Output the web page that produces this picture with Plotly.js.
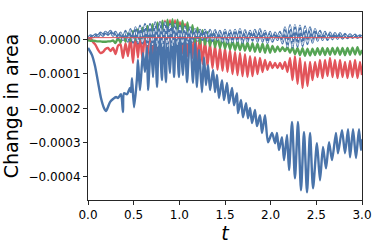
<!DOCTYPE html>
<html>
<head>
<meta charset="utf-8">
<script src="https://cdn.plot.ly/plotly-3.0.1.min.js"></script>
<style>html,body{margin:0;padding:0;background:#fff;}#chart{width:374px;height:249px;}</style>
</head>
<body>
<div id="chart"></div>
<script>
// values of the change in area are written in units of 1e-4
const UNIT = 1e-4;

// shared time grid for red, green and dotted-blue runs
const tGrid = [
  0, 0.027, 0.055, 0.082, 0.110, 0.137, 0.164, 0.192, 0.219, 0.246,
  0.274, 0.301, 0.328, 0.356, 0.383, 0.411, 0.438, 0.465, 0.493, 0.520,
  0.547, 0.569, 0.597, 0.624, 0.651, 0.679, 0.706, 0.734, 0.761, 0.788,
  0.816, 0.843, 0.871, 0.898, 0.925, 0.953, 0.980, 1.007, 1.035, 1.062,
  1.089, 1.117, 1.144, 1.172, 1.199, 1.226, 1.254, 1.281, 1.308, 1.336,
  1.363, 1.391, 1.418, 1.445, 1.473, 1.500, 1.527, 1.555, 1.582, 1.610,
  1.637, 1.664, 1.692, 1.719, 1.746, 1.774, 1.801, 1.828, 1.856, 1.883,
  1.911, 1.938, 1.965, 1.993, 2.020, 2.048, 2.075, 2.102, 2.130, 2.157,
  2.184, 2.212, 2.239, 2.266, 2.294, 2.321, 2.349, 2.376, 2.403, 2.431,
  2.458, 2.486, 2.513, 2.540, 2.568, 2.595, 2.622, 2.650, 2.677, 2.704,
  2.732, 2.759, 2.787, 2.814, 2.841, 2.869, 2.896, 2.924, 2.951, 2.978,
  3.0
];

const redVals = [
  0, 0.05, -0.07, -0.15, -0.30, -0.39, -0.36, -0.27, -0.24, -0.33,
  -0.24, -0.42, -0.18, -0.13, -0.53, -0.10, -0.48, 0.08, -0.68, 0.20,
  -0.53, 0.20, -0.59, 0.28, -0.53, 0.37, -0.45, 0.46, -0.39, 0.52,
  -0.36, 0.55, -0.30, 0.57, -0.33, 0.57, -0.30, 0.52, -0.39, 0.46,
  -0.48, 0.34, -0.53, 0.22, -0.65, 0.11, -0.71, -0.01, -0.77, -0.10,
  -0.83, -0.15, -0.88, -0.21, -0.91, -0.24, -0.94, -0.30, -1.00, -0.36,
  -1.03, -0.39, -1.06, -0.42, -1.09, -0.48, -1.06, -0.51, -1.00, -0.53,
  -0.94, -0.59, -0.88, -0.65, -0.83, -0.68, -0.83, -0.68, -0.85, -0.65,
  -0.94, -0.53, -1.18, -0.48, -1.29, -0.53, -1.41, -0.65, -1.35, -0.65,
  -1.18, -0.65, -1.09, -0.59, -1.12, -0.59, -1.06, -0.53, -1.09, -0.59,
  -1.12, -0.59, -1.09, -0.65, -1.12, -0.62, -1.09, -0.59, -1.12, -0.65,
  -1.03
];

const greenVals = [
  -0.02, -0.03, -0.03, -0.04, -0.05, -0.05, -0.06, -0.06, -0.05, -0.05,
  -0.02, -0.10, 0.05, -0.08, 0.12, -0.05, 0.18, -0.04, 0.25, 0.00,
  0.30, 0.02, 0.35, 0.04, 0.40, 0.05, 0.45, 0.05, 0.50, 0.06,
  0.55, 0.06, 0.58, 0.05, 0.60, 0.05, 0.58, 0.03, 0.55, 0.00,
  0.50, -0.03, 0.42, -0.08, 0.35, -0.12, 0.28, -0.15, 0.22, -0.18,
  0.15, -0.22, 0.10, -0.24, 0.05, -0.26, 0.00, -0.28, -0.03, -0.30,
  -0.05, -0.31, -0.07, -0.32, -0.09, -0.33, -0.10, -0.35, -0.12, -0.36,
  -0.12, -0.38, -0.14, -0.38, -0.18, -0.36, -0.20, -0.34, -0.22, -0.33,
  -0.22, -0.38, -0.22, -0.42, -0.24, -0.45, -0.25, -0.47, -0.26, -0.46,
  -0.26, -0.45, -0.25, -0.44, -0.24, -0.45, -0.25, -0.44, -0.24, -0.43,
  -0.23, -0.44, -0.24, -0.45, -0.24, -0.44, -0.23, -0.43, -0.22, -0.44,
  -0.30
];

const dottedVals = [
  0.05, 0.12, 0.08, 0.15, 0.10, 0.20, 0.12, 0.22, 0.15, 0.25,
  0.12, 0.22, 0.05, 0.20, 0.00, 0.25, -0.05, 0.30, -0.08, 0.35,
  -0.10, 0.40, -0.10, 0.45, -0.15, 0.45, -0.15, 0.50, -0.20, 0.50,
  -0.20, 0.50, -0.20, 0.45, -0.18, 0.45, -0.15, 0.40, -0.12, 0.38,
  -0.10, 0.35, -0.05, 0.30, -0.02, 0.28, 0.00, 0.28, -0.02, 0.28,
  -0.03, 0.27, 0.00, 0.25, -0.05, 0.28, -0.08, 0.26, -0.06, 0.28,
  -0.05, 0.30, -0.08, 0.27, -0.05, 0.25, -0.02, 0.28, -0.05, 0.30,
  -0.05, 0.25, -0.08, 0.22, -0.05, 0.20, 0.00, 0.22, -0.10, 0.35,
  -0.20, 0.42, -0.22, 0.42, -0.20, 0.40, -0.18, 0.38, -0.12, 0.35,
  -0.08, 0.30, -0.02, 0.25, 0.00, 0.22, 0.00, 0.20, 0.02, 0.18,
  0.03, 0.18, 0.04, 0.16, 0.05, 0.15, 0.06, 0.14, 0.06, 0.12,
  0.08
];

// large blue run
const tBlue = [
  0, 0.044, 0.077, 0.110, 0.142, 0.175, 0.197, 0.219, 0.241, 0.274,
  0.307, 0.328, 0.361, 0.383, 0.394, 0.427, 0.460, 0.471, 0.482, 0.504,
  0.537, 0.547, 0.569, 0.602, 0.624, 0.646, 0.657, 0.690, 0.712, 0.734,
  0.756, 0.777, 0.810, 0.821, 0.854, 0.865, 0.898, 0.920, 0.942, 0.964,
  0.996, 1.007, 1.040, 1.062, 1.084, 1.117, 1.150, 1.172, 1.193, 1.215,
  1.248, 1.270, 1.292, 1.314, 1.336, 1.369, 1.391, 1.412, 1.434, 1.467,
  1.489, 1.522, 1.544, 1.577, 1.599, 1.631, 1.642, 1.675, 1.697, 1.730,
  1.752, 1.774, 1.796, 1.828, 1.850, 1.883, 1.905, 1.938, 1.971, 2.015,
  2.048, 2.069, 2.091, 2.124, 2.146, 2.179, 2.201, 2.234, 2.266, 2.299,
  2.332, 2.365, 2.398, 2.431, 2.464, 2.507, 2.540, 2.573, 2.606, 2.639,
  2.672, 2.715, 2.737, 2.781, 2.814, 2.847, 2.869, 2.902, 2.934, 2.967,
  2.989, 3.0
];
const blueVals = [
  -0.24, -0.45, -0.77, -1.24, -1.70, -1.99, -2.08, -1.96, -1.82, -1.73,
  -1.67, -1.70, -1.59, -2.11, -1.56, -1.59, -1.41, -1.53, -1.12, -1.97,
  -1.09, -0.59, -1.47, -0.39, -0.94, -0.21, -1.47, -0.10, -1.09, 0.08,
  -1.38, 0.28, -1.18, 0.20, -1.24, 0.37, -0.97, 0.34, -1.09, 0.28,
  -1.09, 0.22, -1.03, 0.14, -1.24, 0.14, -1.26, -0.10, -1.38, -0.30,
  -1.53, -0.51, -1.32, -0.74, -1.47, -0.88, -1.53, -1.03, -1.70, -1.18,
  -1.76, -1.26, -1.85, -1.41, -1.91, -1.56, -2.14, -1.76, -2.26, -1.85,
  -2.29, -1.99, -2.43, -2.05, -2.52, -2.20, -2.72, -2.20, -2.99, -2.72,
  -3.02, -2.72, -3.22, -2.84, -3.51, -2.78, -3.80, -2.40, -4.04, -2.40,
  -4.39, -2.69, -4.45, -2.72, -4.33, -3.02, -4.10, -3.13, -3.75, -2.99,
  -3.51, -2.72, -3.31, -2.64, -3.31, -2.61, -3.43, -2.61, -3.45, -2.61,
  -3.22, -2.90
];

// thin red reference line
const refT = [0, 3.0];
const refVals = [0.06, 0.06];

const xTickLabels = ['0.0', '0.5', '1.0', '1.5', '2.0', '2.5', '3.0'];

const conv = a => a.map(v => v * UNIT);

const BLUE = '#4a74aa', RED = '#e2545a', GREEN = '#55a454';

const traces = [
  {x: tGrid, y: conv(redVals), mode: 'lines', line: {color: RED, width: 2.4, shape: 'spline', smoothing: 0.5}},
  {x: tGrid, y: conv(greenVals), mode: 'lines', line: {color: GREEN, width: 2.4, shape: 'spline', smoothing: 0.5}},
  {x: tBlue, y: conv(blueVals), mode: 'lines', line: {color: BLUE, width: 2.4, shape: 'spline', smoothing: 0.7}},
  {x: tGrid, y: conv(dottedVals), mode: 'lines', line: {color: BLUE, width: 2.8, shape: 'spline', smoothing: 0.5}},
  {x: tGrid, y: conv(dottedVals), mode: 'lines', line: {color: '#ffffff', width: 1, dash: 'dot', shape: 'spline', smoothing: 0.5}},
  {x: refT, y: conv(refVals), mode: 'lines', line: {color: RED, width: 1}}
];

const axisCommon = {
  showgrid: false, zeroline: false, showline: true, linecolor: '#262626', linewidth: 1,
  mirror: true, ticks: 'outside', ticklen: 4, tickwidth: 1, tickcolor: '#262626',
  tickfont: {family: 'DejaVu Sans', size: 12, color: '#000'}
};

const layout = {
  width: 374, height: 249,
  margin: {l: 88, r: 12, t: 12, b: 49},
  paper_bgcolor: '#fff', plot_bgcolor: '#fff',
  showlegend: false,
  xaxis: Object.assign({}, axisCommon, {
    range: [0, 3], tickmode: 'array',
    tickvals: [0, 0.5, 1, 1.5, 2, 2.5, 3], ticktext: xTickLabels,
    title: {text: '<i>t</i>', font: {family: 'DejaVu Sans', size: 19, color: '#000'}, standoff: 2}
  }),
  yaxis: Object.assign({}, axisCommon, {
    range: [-4.673e-4, 0.807e-4], dtick: 1e-4, tick0: 0, tickformat: '.4f',
    title: {text: 'Change in area', font: {family: 'DejaVu Sans', size: 19, color: '#000'}, standoff: 7}
  })
};

Plotly.newPlot('chart', traces, layout, {staticPlot: true, displayModeBar: false});
</script>
</body>
</html>
